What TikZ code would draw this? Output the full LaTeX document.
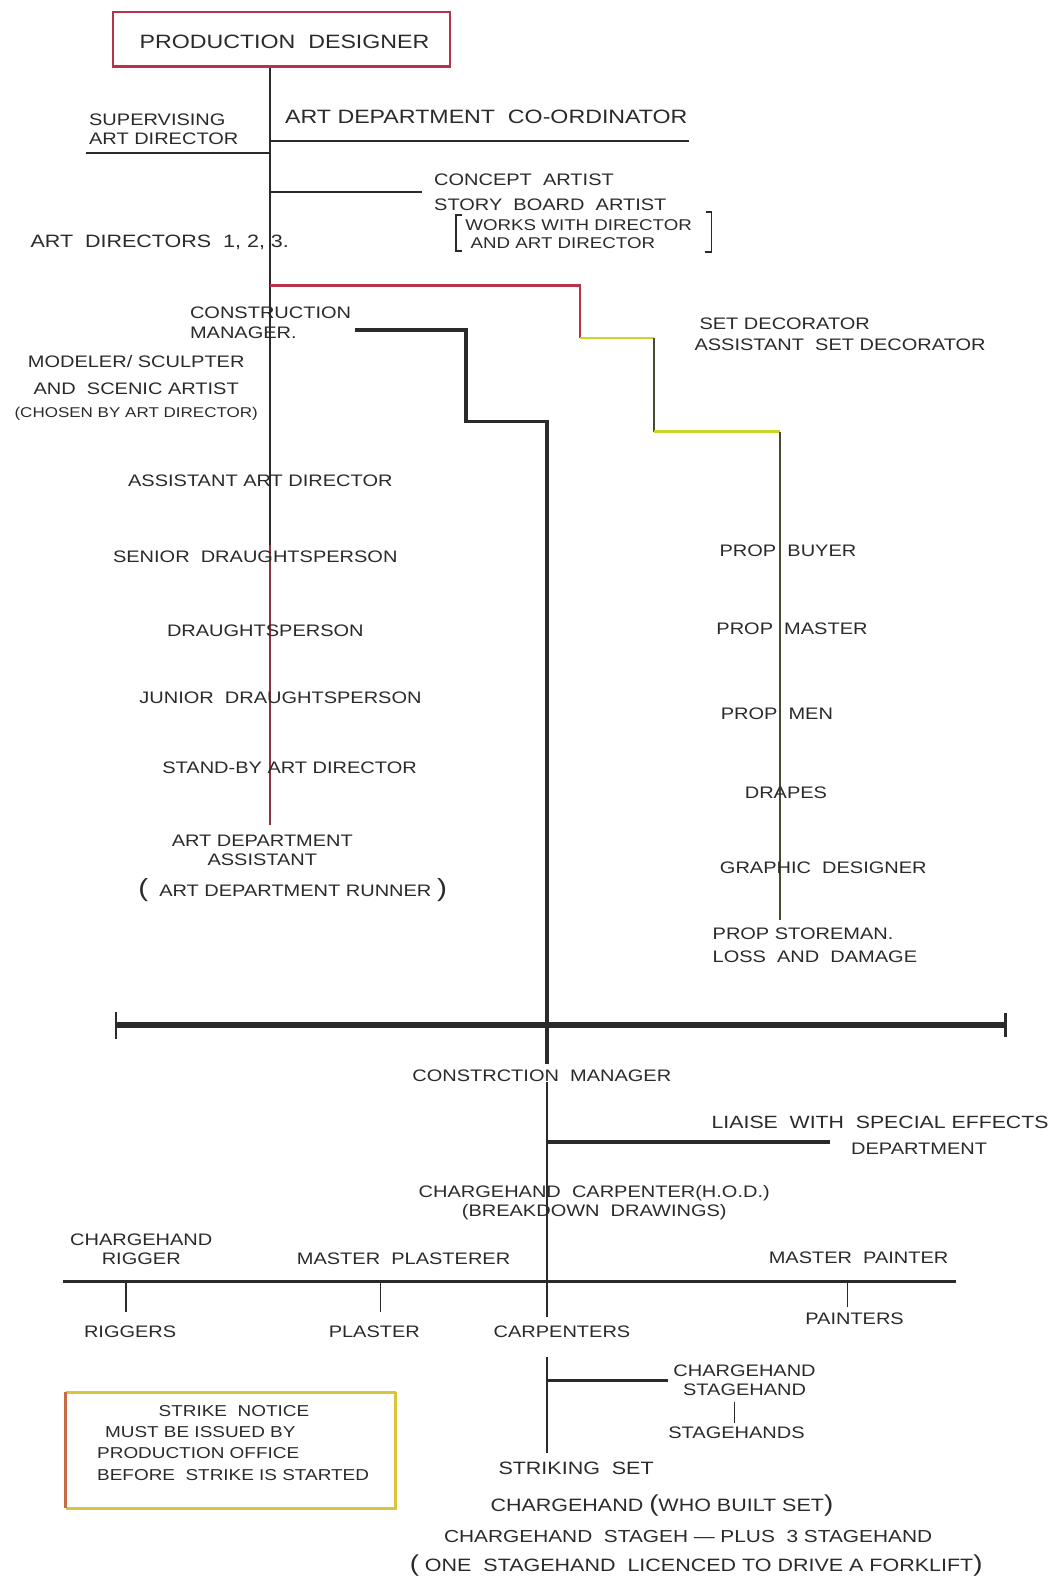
\documentclass[tikz,border=0pt]{standalone}
\usepackage{fontspec}
\setmainfont[FakeStretch=1.2]{Liberation Sans}
\definecolor{ink}{HTML}{2A2A2A}
\definecolor{redink}{HTML}{B8324A}
\definecolor{yg}{HTML}{C8D62A}
\definecolor{olive}{HTML}{4A4A30}
\definecolor{boxy}{HTML}{D9C43A}
\begin{document}
\begin{tikzpicture}[x=0.02cm,y=-0.02cm,
  lbl/.style={font=\fontsize{9.4}{11}\selectfont, inner sep=0pt, text=ink, align=center},
  small/.style={font=\fontsize{8.8}{10}\selectfont, inner sep=0pt, text=ink, align=left},
  big/.style={font=\fontsize{10.9}{12}\selectfont, inner sep=0pt, text=ink, align=center},
  large/.style={font=\fontsize{10.1}{12}\selectfont, inner sep=0pt, text=ink, align=center},
  wire/.style={draw=ink, line width=1.1pt},
  thick wire/.style={draw=ink, line width=1.9pt},
  tick/.style={draw=ink, line width=0.9pt}]
\useasboundingbox (0,0) rectangle (1050,1568);

% ---------- top ----------
\node[draw=redink, line width=1.3pt, minimum width=334*0.02cm, minimum height=54*0.02cm, inner sep=0pt] (pd) at (279,39) {};
\node[big] (pdt) at (282,41) {PRODUCTION\ \ DESIGNER};

\coordinate (m1) at (268,152);
\coordinate (m2) at (268,140);
\coordinate (m3) at (268,190);
\coordinate (m4) at (268,283);
\coordinate (m5) at (268,540);
\coordinate (mEnd) at (268,818);
\draw[wire] (pd.south -| m1) -- (m5);
\draw[draw=redink!70!ink, line width=1.1pt] (m5) -- (mEnd);

\node[lbl, anchor=west, align=left] (sad) at (88,128) {SUPERVISING\\ART DIRECTOR};
\coordinate (sadL) at (85,152);
\draw[wire] (sadL) -- (m1);

\node[big] (adc) at (482,116) {ART DEPARTMENT\ \ CO-ORDINATOR};
\coordinate (adcR) at (683,140);
\draw[wire] (m2) -- (adcR);

\coordinate (caR) at (418,190);
\draw[wire] (m3) -- (caR);
\node[lbl, anchor=west] (ca) at (430,178) {CONCEPT\ \ ARTIST};
\node[lbl, anchor=west] (sba) at (430,203) {STORY\ \ BOARD\ \ ARTIST};
\node[small, anchor=west] (works) at (461,232) {WORKS WITH DIRECTOR\\\ AND ART DIRECTOR};
\draw[tick] (458,213) -- (452,213) -- (452,249) -- (458,249);
\draw[tick] (700,210) -- (705,210) -- (705,250) -- (699,250);

\node[large, anchor=west] (ad) at (30,240) {ART\ \ DIRECTORS\ \ 1, 2, 3.};

% ---------- set decorator branch ----------
\coordinate (s1) at (575,283);
\coordinate (s2) at (575,335);
\coordinate (s3) at (648,335);
\coordinate (s4) at (648,428);
\coordinate (s5) at (773,428);
\coordinate (sEnd) at (773,912);
\draw[draw=redink, line width=1.3pt] (m4) -- (s1) -- (s2);
\draw[draw=yg, line width=1.5pt] (s2) -- (s3);
\draw[draw=olive, line width=1.1pt] (s3) -- (s4);
\draw[draw=yg, line width=1.5pt] (s4) -- (s5);
\draw[draw=olive, line width=1pt] (s5) -- (sEnd);

\node[lbl, anchor=west] (sd) at (693,321) {SET DECORATOR};
\node[lbl, anchor=west] (asd) at (688,342) {ASSISTANT\ \ SET DECORATOR};

% ---------- construction manager branch ----------
\node[lbl, anchor=west, align=left] (cm) at (188,320) {CONSTRUCTION\\MANAGER.};
\coordinate (c1) at (352,327);
\coordinate (c2) at (462,327);
\coordinate (c3) at (462,418);
\coordinate (c4) at (542,418);
\coordinate (c5) at (542,1055);
\draw[thick wire, line join=miter] (c1) -- (c2) -- (c3) -- (c4) -- (c5);

\node[lbl] (mod) at (135,372) {MODELER/\ SCULPTER\\[4pt]AND\ \ SCENIC ARTIST};
\node[font=\fontsize{8}{9}\selectfont, inner sep=0pt, text=ink] (chosen) at (135,410) {(CHOSEN BY ART DIRECTOR)};

% ---------- art department column ----------
\node[lbl] (aad) at (258,477) {ASSISTANT ART DIRECTOR};
\node[lbl] (sdp) at (253,552) {SENIOR\ \ DRAUGHTSPERSON};
\node[lbl] (dp) at (263,625) {DRAUGHTSPERSON};
\node[lbl] (jdp) at (278,692) {JUNIOR\ \ DRAUGHTSPERSON};
\node[lbl] (sbad) at (287,761) {STAND-BY ART DIRECTOR};
\node[lbl] (ada) at (260,843) {ART DEPARTMENT\\ASSISTANT};
\node[lbl] (adr) at (290,882) {{\fontsize{14}{14}\selectfont(}\ \ ART DEPARTMENT RUNNER\ {\fontsize{14}{14}\selectfont)}};

% ---------- props column ----------
\node[lbl] (pb) at (781,546) {PROP\ \ BUYER};
\node[lbl] (pm) at (785,623) {PROP\ \ MASTER};
\node[lbl] (pmen) at (770,707) {PROP\ \ MEN};
\node[lbl] (dr) at (779,786) {DRAPES};
\node[lbl] (gd) at (816,860) {GRAPHIC\ \ DESIGNER};
\node[lbl, anchor=west, align=left] (ps) at (706,937) {PROP STOREMAN.\\[2pt]LOSS\ \ AND\ \ DAMAGE};

% ---------- divider ----------
\coordinate (barL) at (115,1016);
\coordinate (barR) at (997,1016);
\draw[draw=ink, line width=3.4pt] (barL) -- (barR);
\draw[draw=ink, line width=1.6pt] (115,1003) -- (115,1030);
\draw[draw=ink, line width=1.6pt] (997,1004) -- (997,1028);

% ---------- construction ----------
\node[lbl] (cm2) at (537,1066) {CONSTRCTION\ \ MANAGER};
\coordinate (v1) at (542,1082);
\coordinate (v2) at (542,1132);
\coordinate (v3) at (542,1270);
\coordinate (v4) at (542,1305);
\draw[wire] (cm2.south -| v1) -- (v4);
\coordinate (lsR) at (823,1132);
\draw[thick wire] (v2) -- (lsR);
\node[font=\fontsize{10}{12}\selectfont, inner sep=0pt, text=ink, anchor=west] (ls) at (705,1112) {LIAISE\ \ WITH\ \ SPECIAL EFFECTS};
\node[lbl] (lsd) at (911,1139) {DEPARTMENT};

\node[lbl] (chc) at (589,1192) {CHARGEHAND\ \ CARPENTER(H.O.D.)\\(BREAKDOWN\ \ DRAWINGS)};

\coordinate (hL) at (62,1270);
\coordinate (hR) at (948,1270);
\draw[thick wire] (hL) -- (hR);

\node[lbl] (chr) at (140,1238) {CHARGEHAND\\RIGGER};
\node[lbl] (mpl) at (400,1248) {MASTER\ \ PLASTERER};
\node[lbl] (mpa) at (851,1247) {MASTER\ \ PAINTER};

\coordinate (t1) at (125,1270);
\coordinate (t2) at (377,1270);
\coordinate (t3) at (840,1270);
\draw[tick] (t1) -- (125,1300);
\draw[tick] (t2) -- (377,1300);
\draw[tick] (t3) -- (840,1295);

\node[lbl] (rig) at (129,1320) {RIGGERS};
\node[lbl] (pla) at (371,1320) {PLASTER};
\node[lbl] (car) at (557,1320) {CARPENTERS};
\node[lbl] (pai) at (847,1307) {PAINTERS};

\coordinate (w1) at (542,1345);
\coordinate (w2) at (542,1368);
\coordinate (wEnd) at (542,1440);
\draw[wire] (w1) -- (wEnd);
\coordinate (chsL) at (662,1368);
\draw[thick wire] (w2) -- (chsL);
\node[lbl] (chs) at (738,1368) {CHARGEHAND\\STAGEHAND};
\coordinate (u1) at (728,1390);
\coordinate (u2) at (728,1410);
\draw[tick] (u1) -- (u2);
\node[lbl] (sh) at (730,1420) {STAGEHANDS};

% ---------- strike notice ----------
\draw[draw=boxy, line width=2pt] (392,1380) -- (65,1380);
\draw[draw=boxy, line width=2pt] (65,1495) -- (392,1495) -- (392,1380);
\draw[draw=redink!60!boxy, line width=1.4pt] (65,1380) -- (65,1495);
\node[font=\fontsize{8.9}{10}\selectfont, inner sep=0pt, text=ink, anchor=west, align=left] (sn) at (96,1430)
 {\hspace*{3.9em}STRIKE\ \ NOTICE\\[2pt]\hspace*{0.5em}MUST BE ISSUED BY\\[2pt]PRODUCTION OFFICE\\[2pt]BEFORE\ \ STRIKE IS STARTED};

\node[large] (ss) at (571,1455) {STRIKING\ \ SET};
\node[large] (chw) at (656,1492) {CHARGEHAND {\fontsize{13}{13}\selectfont(}WHO BUILT SET{\fontsize{13}{13}\selectfont)}};
\node[font=\fontsize{9.8}{12}\selectfont, inner sep=0pt, text=ink] (chst) at (682,1523) {CHARGEHAND\ \ STAGEH --- PLUS\ \ 3 STAGEHAND};
\node[large] (one) at (690,1552) {{\fontsize{13}{13}\selectfont(}\ ONE\ \ STAGEHAND\ \ LICENCED TO DRIVE A FORKLIFT{\fontsize{13}{13}\selectfont)}};
\end{tikzpicture}
\end{document}
